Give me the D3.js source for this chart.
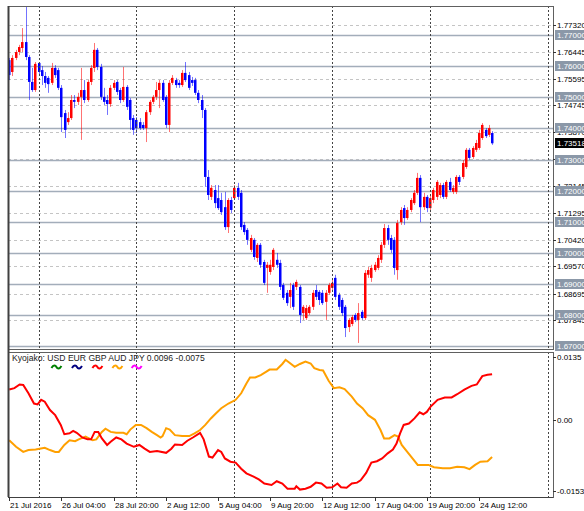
<!DOCTYPE html>
<html>
<head>
<meta charset="utf-8">
<script src="https://cdn.jsdelivr.net/npm/d3@7"></script>
<style>
  body { margin: 0; background: #fff; }
  text { font-family: "Liberation Sans", Arial, sans-serif; }
</style>
</head>
<body>
<script>
// GBPAUD H4 candles, one entry per bar (bar 0 = 21 Jul 2016 12:00)
const opens = [1.7619,1.7581,1.7626,1.7645,1.7658,1.7677,1.7629,1.7549,1.7523,1.7610,
  1.7587,1.7568,1.7562,1.7546,1.7594,1.7587,1.7530,1.7449,1.7420,1.7433,
  1.7491,1.7485,1.7501,1.7523,1.7491,1.7549,1.7594,1.7652,1.7597,1.7501,
  1.7491,1.7478,1.7530,1.7549,1.7523,1.7491,1.7533,1.7491,1.7433,1.7427,
  1.7420,1.7411,1.7401,1.7452,1.7485,1.7501,1.7523,1.7546,1.7501,1.7411,
  1.7546,1.7555,1.7546,1.7539,1.7578,1.7571,1.7555,1.7555,1.7514,1.7491,
  1.7459,1.7244,1.7180,1.7202,1.7176,1.7170,1.7147,1.7083,1.7170,1.7176,
  1.7209,1.7193,1.7090,1.7074,1.7010,1.7042,1.6984,1.7026,1.6971,1.6952,
  1.6939,1.6955,1.6978,1.6968,1.6897,1.6872,1.6859,1.6897,1.6891,1.6891,
  1.6807,1.6791,1.6807,1.6827,1.6881,1.6875,1.6872,1.6843,1.6872,1.6888,
  1.6920,1.6865,1.6849,1.6827,1.6762,1.6772,1.6801,1.6785,1.6811,1.6791,
  1.6930,1.6920,1.6945,1.6952,1.6978,1.7026,1.7080,1.7048,1.7042,1.6945,
  1.7099,1.7144,1.7112,1.7138,1.7160,1.7193,1.7241,1.7147,1.7180,1.7144,
  1.7170,1.7180,1.7186,1.7218,1.7180,1.7228,1.7196,1.7196,1.7244,1.7244,
  1.7276,1.7331,1.7308,1.7331,1.7337,1.7369,1.7395,1.7379,1.7385];
const highs = [1.7626,1.7635,1.7652,1.7668,1.7722,1.7790,1.7635,1.7594,1.7613,1.7613,
  1.7600,1.7581,1.7568,1.7610,1.7603,1.7594,1.7539,1.7459,1.7452,1.7507,
  1.7507,1.7514,1.7594,1.7555,1.7555,1.7603,1.7674,1.7658,1.7607,1.7530,
  1.7507,1.7539,1.7555,1.7555,1.7530,1.7597,1.7539,1.7497,1.7443,1.7436,
  1.7433,1.7420,1.7459,1.7491,1.7507,1.7549,1.7555,1.7555,1.7507,1.7555,
  1.7571,1.7562,1.7555,1.7587,1.7613,1.7581,1.7565,1.7562,1.7523,1.7507,
  1.7465,1.7266,1.7218,1.7218,1.7218,1.7193,1.7196,1.7176,1.7180,1.7218,
  1.7225,1.7202,1.7099,1.7080,1.7058,1.7048,1.7032,1.7032,1.6978,1.6971,
  1.6978,1.7016,1.7000,1.6978,1.6904,1.6881,1.6904,1.6904,1.6914,1.6897,
  1.6833,1.6833,1.6833,1.6881,1.6897,1.6881,1.6881,1.6881,1.6904,1.6914,
  1.6930,1.6872,1.6856,1.6833,1.6791,1.6801,1.6807,1.6839,1.6817,1.6945,
  1.6955,1.6962,1.6971,1.6993,1.7035,1.7093,1.7090,1.7058,1.7051,1.7106,
  1.7147,1.7154,1.7147,1.7176,1.7202,1.7257,1.7250,1.7193,1.7186,1.7186,
  1.7209,1.7234,1.7225,1.7225,1.7234,1.7241,1.7218,1.7250,1.7250,1.7298,
  1.7337,1.7337,1.7343,1.7363,1.7395,1.7417,1.7401,1.7411,1.7391];
const lows = [1.7555,1.7568,1.7619,1.7635,1.7645,1.7619,1.7491,1.7517,1.7517,1.7571,
  1.7539,1.7530,1.7514,1.7539,1.7562,1.7523,1.7388,1.7369,1.7411,1.7427,
  1.7465,1.7475,1.7363,1.7481,1.7485,1.7539,1.7581,1.7587,1.7491,1.7475,
  1.7443,1.7469,1.7523,1.7507,1.7481,1.7485,1.7459,1.7395,1.7379,1.7385,
  1.7395,1.7395,1.7356,1.7443,1.7478,1.7491,1.7465,1.7485,1.7401,1.7388,
  1.7539,1.7530,1.7530,1.7533,1.7549,1.7523,1.7536,1.7507,1.7481,1.7433,
  1.7212,1.7170,1.7170,1.7144,1.7138,1.7122,1.7074,1.7064,1.7128,1.7170,
  1.7170,1.7074,1.7058,1.7026,1.7003,1.6978,1.6971,1.6952,1.6897,1.6872,
  1.6930,1.6945,1.6952,1.6881,1.6849,1.6830,1.6823,1.6817,1.6881,1.6775,
  1.6785,1.6785,1.6801,1.6817,1.6849,1.6833,1.6833,1.6785,1.6865,1.6881,
  1.6849,1.6817,1.6798,1.6730,1.6746,1.6765,1.6778,1.6711,1.6785,1.6785,
  1.6920,1.6907,1.6939,1.6945,1.6968,1.7016,1.7026,1.7000,1.6930,1.6914,
  1.7090,1.7090,1.7106,1.7131,1.7154,1.7186,1.7099,1.7138,1.7131,1.7131,
  1.7160,1.7170,1.7176,1.7173,1.7173,1.7196,1.7189,1.7189,1.7218,1.7237,
  1.7270,1.7298,1.7302,1.7324,1.7331,1.7363,1.7369,1.7372,1.7347];
const closes = [1.7571,1.7626,1.7645,1.7661,1.7677,1.7629,1.7549,1.7523,1.7607,1.7581,
  1.7568,1.7546,1.7542,1.7594,1.7571,1.7530,1.7436,1.7395,1.7433,1.7491,
  1.7485,1.7501,1.7523,1.7491,1.7549,1.7594,1.7652,1.7597,1.7501,1.7485,
  1.7478,1.7530,1.7546,1.7517,1.7491,1.7533,1.7469,1.7427,1.7395,1.7401,
  1.7401,1.7401,1.7452,1.7485,1.7501,1.7523,1.7546,1.7491,1.7411,1.7546,
  1.7562,1.7539,1.7539,1.7578,1.7555,1.7530,1.7546,1.7514,1.7491,1.7459,
  1.7244,1.7186,1.7209,1.7160,1.7144,1.7131,1.7083,1.7170,1.7138,1.7209,
  1.7180,1.7083,1.7067,1.7042,1.7048,1.6987,1.7026,1.6962,1.6904,1.6962,
  1.6962,1.7010,1.6962,1.6891,1.6856,1.6839,1.6881,1.6827,1.6907,1.6801,
  1.6827,1.6823,1.6827,1.6872,1.6859,1.6849,1.6839,1.6872,1.6897,1.6904,
  1.6859,1.6827,1.6807,1.6759,1.6785,1.6794,1.6785,1.6807,1.6791,1.6936,
  1.6945,1.6952,1.6962,1.6984,1.7026,1.7080,1.7042,1.7010,1.6952,1.7096,
  1.7138,1.7112,1.7138,1.7170,1.7193,1.7241,1.7147,1.7180,1.7144,1.7176,
  1.7202,1.7228,1.7218,1.7180,1.7228,1.7202,1.7209,1.7244,1.7228,1.7289,
  1.7331,1.7305,1.7337,1.7353,1.7385,1.7411,1.7375,1.7401,1.7352];

const lastPrice = 1.73518;

// time axis
const xLabels = ["21 Jul 2016", "26 Jul 04:00", "28 Jul 20:00", "2 Aug 12:00", "5 Aug 04:00",
  "9 Aug 20:00", "12 Aug 12:00", "17 Aug 04:00", "19 Aug 20:00", "24 Aug 12:00"];
const xLabelBars = [0, 16, 32, 48, 64, 80, 96, 112, 128, 144];
const weekBars = [9, 39, 69, 99, 129, 165];

// price axis
const gridLevels = [1.77320, 1.76445, 1.75595, 1.74745, 1.73870, 1.73020,
  1.72145, 1.71295, 1.70420, 1.69570, 1.68695, 1.67845];
const levelLines = [1.77, 1.76, 1.75, 1.74, 1.73, 1.72, 1.71, 1.70, 1.69, 1.68, 1.67];

// Kyojako currency strength (bar, value)
const gbpStrength = [[0,0.0065],[1.6,0.0068],[3.2,0.0076],[4.3,0.0075],[5.9,0.0057],[7.6,0.0035],
  [8.7,0.0033],[9.8,0.0043],[10.9,0.0039],[12.5,0.0021],[14.1,0.0010],[15.8,-0.0011],
  [16.9,-0.0031],[18.5,-0.0029],[19.6,-0.0024],[20.7,-0.0028],[22.4,-0.0038],[24.0,-0.0042],
  [25.1,-0.0042],[26.2,-0.0026],[27.3,-0.0026],[28.4,-0.0040],[30.0,-0.0054],[31.1,-0.0047],
  [32.8,-0.0038],[34.4,-0.0042],[36.0,-0.0051],[38.2,-0.0058],[39.9,-0.0054],[41.5,-0.0062],
  [43.1,-0.0069],[45.3,-0.0067],[48.1,-0.0071],[49.7,-0.0062],[50.8,-0.0053],[53.0,-0.0054],
  [54.6,-0.0045],[56.3,-0.0038],[58.5,-0.0028],[59.6,-0.0042],[61.2,-0.0079],[62.3,-0.0081],
  [64.0,-0.0065],[65.0,-0.0069],[66.1,-0.0083],[67.8,-0.0090],[69.4,-0.0092],[71.1,-0.0105],
  [72.7,-0.0115],[74.9,-0.0122],[76.5,-0.0128],[78.2,-0.0137],[80.4,-0.0140],[82.0,-0.0132],
  [83.7,-0.0137],[85.3,-0.0148],[87.5,-0.0148],[88.0,-0.0143],[89.1,-0.0150],[90.8,-0.0148],
  [92.4,-0.0144],[94.0,-0.0135],[95.7,-0.0137],[97.3,-0.0146],[99.0,-0.0145],[100.6,-0.0137],
  [101.7,-0.0145],[103.4,-0.0146],[105.0,-0.0137],[106.6,-0.0135],[107.7,-0.0130],[109.4,-0.0114],
  [111.0,-0.0092],[112.7,-0.0089],[114.3,-0.0083],[116.0,-0.0072],[117.6,-0.0064],[118.7,-0.0051],
  [119.8,-0.0029],[120.9,-0.0011],[122.5,-0.0008],[124.2,0.0003],[125.8,0.0016],[126.9,0.0012],
  [128.0,0.0017],[129.1,0.0028],[131.3,0.0043],[133.5,0.0048],[135.6,0.0048],[137.3,0.0055],
  [139.5,0.0065],[141.7,0.0073],[143.3,0.0076],[145.0,0.0094],[146.6,0.0097],[148.0,0.0098]];
const audStrength = [[0,-0.0044],[2.1,-0.0058],[4.3,-0.0069],[5.9,-0.0065],[8.1,-0.0064],[10.9,-0.0060],
  [12.5,-0.0065],[14.1,-0.0069],[15.2,-0.0069],[16.9,-0.0054],[18.5,-0.0044],[20.2,-0.0046],
  [21.3,-0.0042],[23.4,-0.0036],[25.6,-0.0044],[26.7,-0.0042],[28.4,-0.0026],[29.5,-0.0019],
  [31.1,-0.0026],[32.8,-0.0028],[35.0,-0.0028],[36.0,-0.0031],[37.1,-0.0021],[38.8,-0.0011],
  [40.4,-0.0011],[42.1,-0.0018],[43.7,-0.0026],[45.3,-0.0033],[46.4,-0.0038],[47.0,-0.0035],
  [48.1,-0.0018],[49.2,-0.0021],[50.8,-0.0033],[53.0,-0.0035],[55.2,-0.0035],[56.8,-0.0029],
  [58.5,-0.0022],[60.1,-0.0011],[61.8,0.0003],[63.4,0.0014],[65.0,0.0025],[67.2,0.0035],
  [69.4,0.0043],[71.1,0.0057],[72.7,0.0078],[73.8,0.0091],[75.4,0.0091],[77.1,0.0096],
  [78.7,0.0103],[79.8,0.0108],[82.0,0.0108],[83.7,0.0120],[84.7,0.0129],[85.8,0.0123],
  [87.5,0.0114],[89.1,0.0120],[90.8,0.0125],[92.4,0.0121],[93.5,0.0111],[95.1,0.0107],
  [96.2,0.0106],[97.9,0.0084],[99.5,0.0068],[101.2,0.0070],[102.8,0.0066],[105.0,0.0050],
  [106.6,0.0035],[108.3,0.0025],[110.0,0.0010],[112.1,0.0000],[113.8,-0.0022],[114.9,-0.0040],
  [116.5,-0.0040],[118.1,-0.0033],[119.2,-0.0036],[120.3,-0.0054],[122.0,-0.0069],[123.6,-0.0083],
  [125.2,-0.0097],[126.9,-0.0097],[128.5,-0.0097],[130.2,-0.0102],[132.9,-0.0104],[135.1,-0.0104],
  [137.3,-0.0101],[139.5,-0.0102],[141.1,-0.0106],[142.8,-0.0097],[144.4,-0.0090],[146.6,-0.0089],
  [148.0,-0.0080]];
const indTicks = [0.0135, 0, -0.0153];
const indTickLabels = ["0.0135", "0.00", "-0.0153"];
const legendNames = ["USD", "EUR", "GBP", "AUD", "JPY"];
const legendColors = ["#008000", "#000080", "#ff0000", "#ffa500", "#ff00ff"];

const W = 584, H = 511;
const L = 8, R = 553;
const mainTop = 6, mainBot = 349, indTop = 352, indBot = 497;

const x = d3.scaleLinear().domain([0, 148]).range([9.2, 492.1]);
const y = d3.scaleLinear().domain([1.67, 1.77]).range([346.4, 34.9]);
const yi = d3.scaleLinear().domain([-0.0153, 0.0135]).range([491, 357]);

const svg = d3.select("body").append("svg")
  .attr("width", W).attr("height", H)
  .style("display", "block");

svg.append("rect").attr("width", W).attr("height", H).attr("fill", "#fff");

const main = svg.append("g");

// dotted price grid
main.selectAll("line.grid")
  .data(gridLevels)
  .join("line")
  .attr("x1", L).attr("x2", R)
  .attr("y1", d => Math.round(y(d)) + 0.5).attr("y2", d => Math.round(y(d)) + 0.5)
  .attr("stroke", "#c4c4c4")
  .attr("stroke-dasharray", "3,3");

// week separators (both panels)
[[mainTop, mainBot], [indTop, indBot]].forEach(([t, b]) => {
  svg.selectAll(null)
    .data(weekBars)
    .join("line")
    .attr("x1", d => Math.round(x(d)) + 0.5).attr("x2", d => Math.round(x(d)) + 0.5)
    .attr("y1", t).attr("y2", b)
    .attr("stroke", "#444")
    .attr("stroke-dasharray", "2,2");
});

// horizontal level lines
main.selectAll("line.level")
  .data(levelLines)
  .join("line")
  .attr("x1", L).attr("x2", R)
  .attr("y1", d => Math.round(y(d)) + 0.5).attr("y2", d => Math.round(y(d)) + 0.5)
  .attr("stroke", "#a3adba")
  .attr("stroke-width", 1.5);

// candles
const candles = main.append("g").selectAll("g")
  .data(closes.map((c, i) => ({ i, o: opens[i], h: highs[i], l: lows[i], c })))
  .join("g");

const col = d => (d.c >= d.o ? "#ff0000" : "#0000ff");

candles.append("line")
  .attr("x1", d => Math.round(x(d.i)) + 0.5)
  .attr("x2", d => Math.round(x(d.i)) + 0.5)
  .attr("y1", d => y(d.h))
  .attr("y2", d => y(d.l))
  .attr("stroke", col)
  .attr("stroke-opacity", 0.55);

candles.append("rect")
  .attr("x", d => Math.round(x(d.i)) - 1)
  .attr("width", 2.5)
  .attr("y", d => y(Math.max(d.o, d.c)))
  .attr("height", d => Math.max(1, Math.abs(y(d.o) - y(d.c))))
  .attr("fill", col);

// indicator lines
const line = d3.line().x(d => x(d[0])).y(d => yi(d[1]));
svg.append("path").datum(audStrength)
  .attr("d", line).attr("fill", "none")
  .attr("stroke", "#ffa000").attr("stroke-width", 2);
svg.append("path").datum(gbpStrength)
  .attr("d", line).attr("fill", "none")
  .attr("stroke", "#ff0000").attr("stroke-width", 2);

// frames
svg.append("rect")
  .attr("x", L + 0.5).attr("y", mainTop + 0.5)
  .attr("width", R - L).attr("height", mainBot - mainTop)
  .attr("fill", "none").attr("stroke", "#606060");
svg.append("rect")
  .attr("x", L + 0.5).attr("y", indTop + 0.5)
  .attr("width", R - L).attr("height", indBot - indTop)
  .attr("fill", "none").attr("stroke", "#606060");
svg.append("line")
  .attr("x1", L + 0.5).attr("x2", L + 0.5).attr("y1", mainTop).attr("y2", indBot)
  .attr("stroke", "#404040").attr("stroke-width", 2);

// price axis labels
const axisR = svg.append("g");
axisR.selectAll("line")
  .data(gridLevels)
  .join("line")
  .attr("x1", R).attr("x2", R + 3)
  .attr("y1", d => Math.round(y(d)) + 0.5).attr("y2", d => Math.round(y(d)) + 0.5)
  .attr("stroke", "#333");
axisR.selectAll("text")
  .data(gridLevels)
  .join("text")
  .attr("x", R + 4)
  .attr("y", d => y(d) + 3)
  .attr("font-size", 8)
  .attr("fill", "#000")
  .text(d => d.toFixed(5));

const boxes = svg.append("g").selectAll("g")
  .data(levelLines)
  .join("g")
  .attr("transform", d => `translate(${R + 2},${Math.round(y(d))})`);
boxes.append("rect")
  .attr("x", 0).attr("y", -5).attr("width", 40).attr("height", 10)
  .attr("fill", "#8b98a8");
boxes.append("text")
  .attr("x", 2).attr("y", 3)
  .attr("font-size", 8)
  .attr("fill", "#fff")
  .text(d => d.toFixed(5));

const lp = svg.append("g").attr("transform", `translate(${R + 2},${Math.round(y(lastPrice))})`);
lp.append("rect").attr("x", 0).attr("y", -5).attr("width", 40).attr("height", 10).attr("fill", "#000");
lp.append("text").attr("x", 2).attr("y", 3).attr("font-size", 8).attr("fill", "#fff")
  .text(lastPrice.toFixed(5));

// indicator axis
svg.selectAll("line.itick")
  .data(indTicks)
  .join("line")
  .attr("x1", R).attr("x2", R + 3)
  .attr("y1", d => Math.round(yi(d)) + 0.5).attr("y2", d => Math.round(yi(d)) + 0.5)
  .attr("stroke", "#333");
svg.selectAll("text.itick")
  .data(indTicks)
  .join("text")
  .attr("x", R + 4)
  .attr("y", d => yi(d) + 3)
  .attr("font-size", 8)
  .attr("fill", "#000")
  .text((d, i) => indTickLabels[i]);

// time axis
const axisB = svg.append("g");
axisB.append("line")
  .attr("x1", L).attr("x2", R).attr("y1", indBot + 0.5).attr("y2", indBot + 0.5)
  .attr("stroke", "#404040");
axisB.selectAll("line.t")
  .data(xLabelBars)
  .join("line")
  .attr("x1", d => Math.round(x(d)) + 0.5).attr("x2", d => Math.round(x(d)) + 0.5)
  .attr("y1", indBot).attr("y2", indBot + 4)
  .attr("stroke", "#333");
axisB.selectAll("text")
  .data(xLabelBars)
  .join("text")
  .attr("x", d => Math.round(x(d)) + 1)
  .attr("y", 508)
  .attr("font-size", 8)
  .attr("fill", "#000")
  .text((d, i) => xLabels[i]);

// indicator legend
const legText = svg.append("text")
  .attr("x", 12).attr("y", 361)
  .attr("font-size", 8.6)
  .attr("fill", "#222")
  .text("Kyojako: " + legendNames.join(" ") + " 0.0096 -0.0075");
const full = legText.text();
const node = legText.node();
legendNames.forEach((n, k) => {
  const idx = full.indexOf(n);
  const x0 = 12 + node.getSubStringLength(0, idx);
  const w = node.getSubStringLength(idx, n.length);
  const cx = x0 + w / 2, cy = 367;
  svg.append("path")
    .attr("d", `M${cx - 5},${cy + 1} C${cx - 3},${cy - 2.5} ${cx - 1},${cy - 2} ${cx},${cy} S${cx + 3},${cy + 2.5} ${cx + 5},${cy - 1}`)
    .attr("fill", "none")
    .attr("stroke", legendColors[k])
    .attr("stroke-width", 2);
});
</script>
</body>
</html>
